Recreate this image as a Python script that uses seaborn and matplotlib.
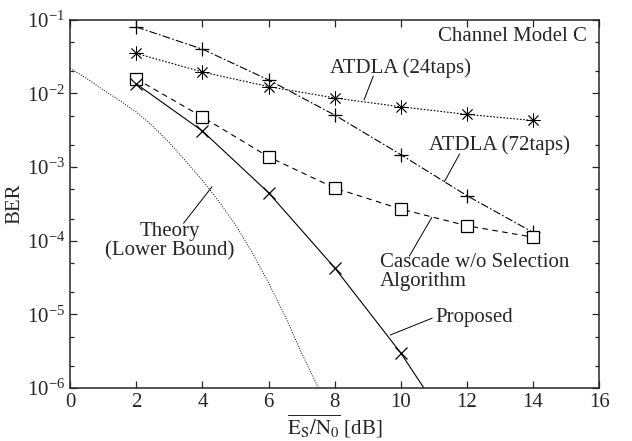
import numpy as np
import pandas as pd
import seaborn as sns
import matplotlib
matplotlib.use("Agg")
import matplotlib.pyplot as plt

# data
snr = [2, 4, 6, 8, 10, 12, 14]
atdla72 = [8.0e-2, 4.0e-2, 1.53e-2, 5.1e-3, 1.48e-3, 4.1e-4, 1.3e-4]
atdla24 = [3.5e-2, 1.96e-2, 1.24e-2, 8.7e-3, 6.6e-3, 5.2e-3, 4.3e-3]
cascade = [1.58e-2, 4.8e-3, 1.38e-3, 5.2e-4, 2.7e-4, 1.6e-4, 1.12e-4]
proposed_snr = [2, 4, 6, 8, 10, 10.7]
proposed = [1.35e-2, 3.1e-3, 4.5e-4, 4.3e-5, 3.0e-6, 1.0e-6]
theory_snr = [0, 0.5, 1, 1.5, 2, 2.5, 3, 3.5, 4, 4.5, 5, 5.5, 6, 6.5, 7, 7.6]
theory = [2.2e-2, 1.6e-2, 1.12e-2, 8.0e-3, 5.6e-3, 3.6e-3, 2.15e-3,
          1.2e-3, 6.6e-4, 3.4e-4, 1.65e-4, 7.0e-5, 2.7e-5, 9.5e-6,
          3.0e-6, 8.3e-7]

sns.set_style("ticks")
plt.rcParams["font.family"] = ["Liberation Serif", "DejaVu Serif"]
plt.rcParams["mathtext.fontset"] = "stix"

fig = plt.figure(figsize=(6.32, 4.41), dpi=100)
ax = fig.add_axes([0.111, 0.12, 0.837, 0.835])

lw = 0.8
mk = dict(markeredgecolor="black", markeredgewidth=0.9)
sns.lineplot(x=theory_snr, y=theory, ax=ax, color="black", lw=0.7,
             linestyle=(0, (1, 1.6)))
sns.lineplot(x=snr, y=atdla72, ax=ax, color="black", lw=lw,
             linestyle=(0, (7, 2, 1.5, 2)), marker="+", markersize=10, **mk)
sns.lineplot(x=snr, y=atdla24, ax=ax, color="black", lw=lw,
             linestyle=(0, (1.5, 1.5)), marker=(8, 2, 0), markersize=10,
             markeredgecolor="black", markeredgewidth=0.6)
sns.lineplot(x=snr, y=cascade, ax=ax, color="black", lw=lw,
             linestyle=(0, (5, 4)), marker="s", markersize=8,
             markerfacecolor="white", **mk)
sns.lineplot(x=proposed_snr, y=proposed, ax=ax, color="black", lw=lw,
             marker="x", markersize=8, markevery=[0, 1, 2, 3, 4], **mk)

ax.set_yscale("log")
ax.set_xlim(0, 16)
ax.set_ylim(1e-6, 1e-1)
ax.set_xticks(range(0, 17, 2))
ax.yaxis.set_major_locator(matplotlib.ticker.LogLocator(base=10, numticks=10))
ax.yaxis.set_minor_locator(matplotlib.ticker.LogLocator(base=10, subs=[2, 5], numticks=10))
ax.yaxis.set_minor_formatter(matplotlib.ticker.NullFormatter())
ax.tick_params(which="both", direction="in", top=True, right=True,
               labelsize=15, width=0.9)
ax.tick_params(which="major", length=5)
ax.tick_params(which="minor", length=3)
for s in ax.spines.values():
    s.set_linewidth(1.1)
    s.set_visible(True)

ax.set_ylabel("BER", fontsize=15, labelpad=2)
ax.set_xlabel(r"$\overline{\mathrm{E_S/N_0}}$ [dB]", fontsize=15, labelpad=1)

fs = 15
ax.text(15.64, 5.88e-2, "Channel Model C", ha="right", va="center", fontsize=fs)
ax.text(9.98, 2.23e-2, "ATDLA (24taps)", ha="center", va="center", fontsize=fs)
ax.text(12.98, 2.0e-3, "ATDLA (72taps)", ha="center", va="center", fontsize=fs)
ax.text(9.38, 3.77e-5, "Cascade w/o Selection\nAlgorithm", ha="left",
        va="center", fontsize=fs, linespacing=0.95)
ax.text(11.04, 9.2e-6, "Proposed", ha="left", va="center", fontsize=fs)
ax.text(3.02, 9.8e-5, "Theory\n(Lower Bound)", ha="center", va="center",
        fontsize=fs, linespacing=1.05)

leaders = [
    ((9.17, 1.73e-2), (8.89, 8.2e-3)),
    ((11.78, 1.51e-3), (11.32, 6.35e-4)),
    ((10.26, 6.2e-5), (10.94, 2.08e-4)),
    ((10.95, 8.9e-6), (9.68, 5.25e-6)),
    ((3.43, 1.73e-4), (4.29, 5.4e-4)),
]
for a, b in leaders:
    ax.annotate("", xy=b, xytext=a,
                arrowprops=dict(arrowstyle="-", lw=0.7, color="black",
                                shrinkA=0, shrinkB=0))

fig.savefig("out.png", dpi=100)
